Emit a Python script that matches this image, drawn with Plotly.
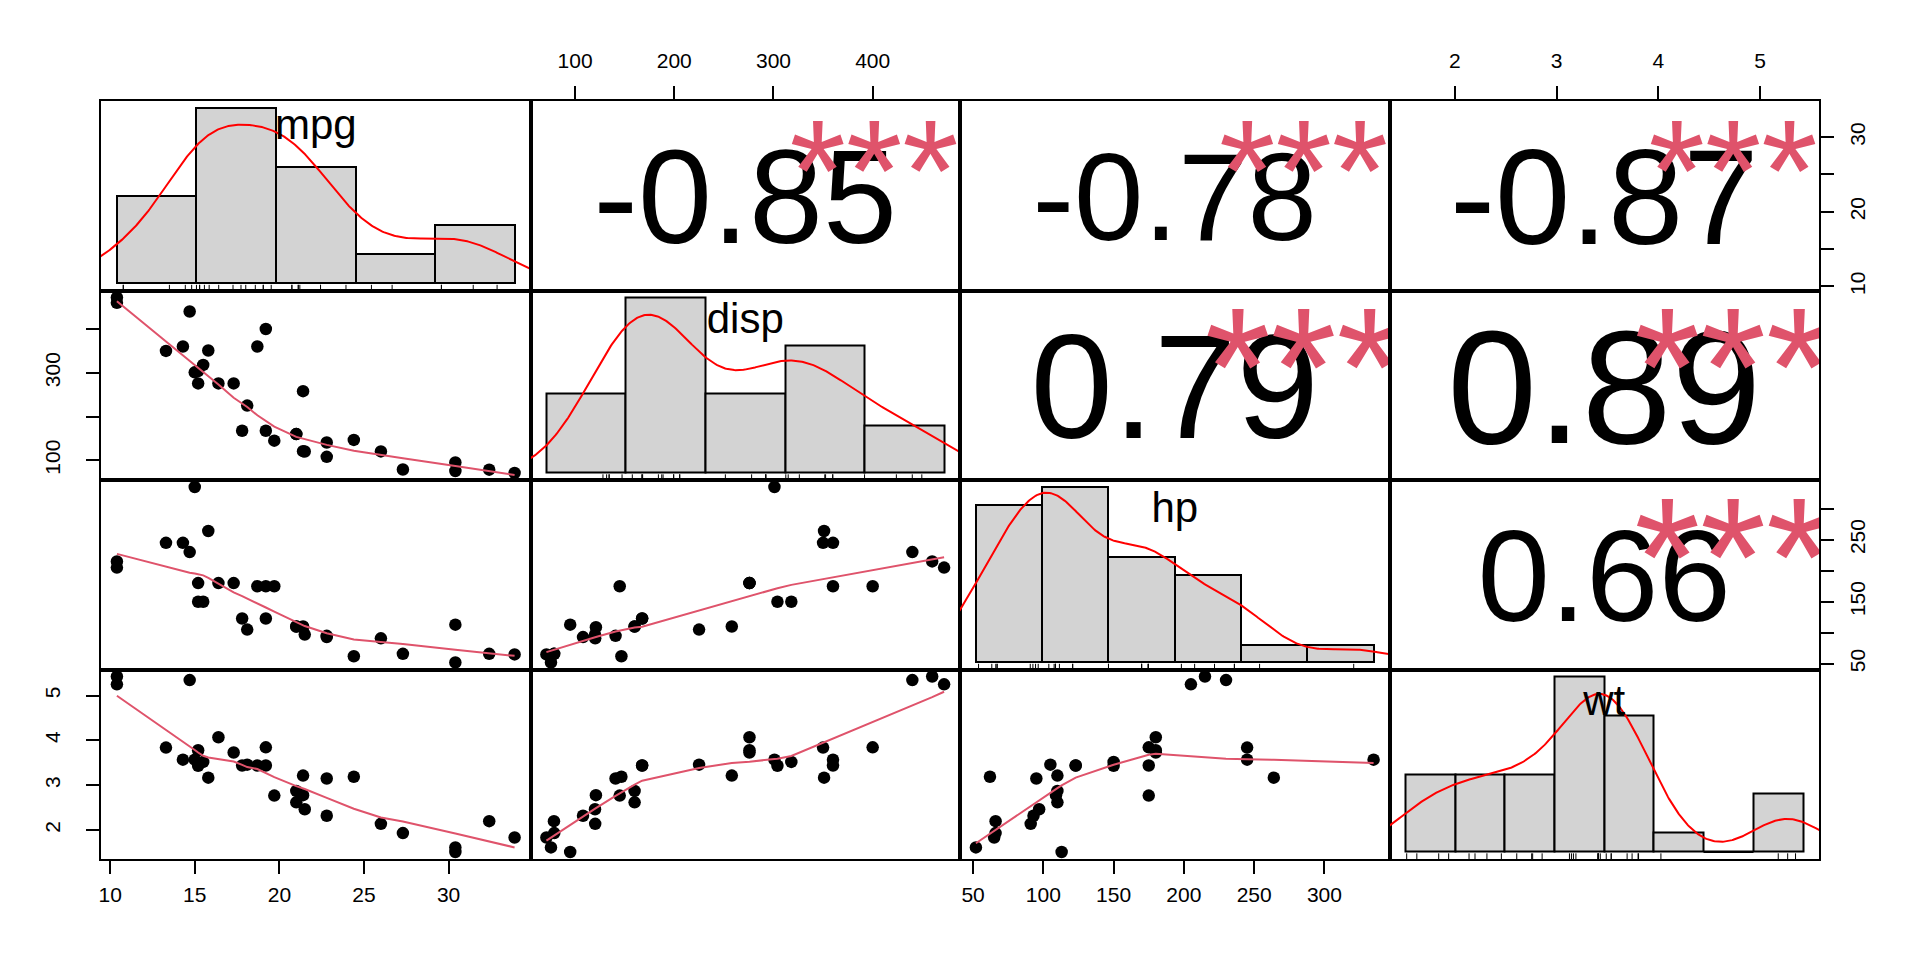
import numpy as np
import plotly.graph_objects as go

# mtcars columns
names = ["mpg", "disp", "hp", "wt"]
mpg = [21.0, 21.0, 22.8, 21.4, 18.7, 18.1, 14.3, 24.4, 22.8, 19.2, 17.8, 16.4, 17.3, 15.2, 10.4, 10.4,
       14.7, 32.4, 30.4, 33.9, 21.5, 15.5, 15.2, 13.3, 19.2, 27.3, 26.0, 30.4, 15.8, 19.7, 15.0, 21.4]
disp = [160, 160, 108, 258, 360, 225, 360, 146.7, 140.8, 167.6, 167.6, 275.8, 275.8, 275.8, 472, 460,
        440, 78.7, 75.7, 71.1, 120.1, 318, 304, 350, 400, 79, 120.3, 95.1, 351, 145, 301, 121]
hp = [110, 110, 93, 110, 175, 105, 245, 62, 95, 123, 123, 180, 180, 180, 205, 215,
      230, 66, 52, 65, 97, 150, 150, 245, 175, 66, 91, 113, 264, 175, 335, 109]
wt = [2.620, 2.875, 2.320, 3.215, 3.440, 3.460, 3.570, 3.190, 3.150, 3.440, 3.440, 4.070, 3.730, 3.780,
      5.250, 5.424, 5.345, 2.200, 1.615, 1.835, 2.465, 3.520, 3.435, 3.840, 3.845, 1.935, 2.140, 1.513,
      3.170, 2.770, 3.570, 2.780]
data = [mpg, disp, hp, wt]

# histogram breaks / counts on the diagonal
mpg_breaks = [10, 15, 20, 25, 30, 35]
mpg_counts = [6, 12, 8, 2, 4]
disp_breaks = [0, 100, 200, 300, 400, 500]
disp_counts = [5, 11, 5, 8, 3]
hp_breaks = [50, 100, 150, 200, 250, 300, 350]
hp_counts = [9, 10, 6, 5, 1, 1]
wt_breaks = [1.5, 2, 2.5, 3, 3.5, 4, 4.5, 5, 5.5]
wt_counts = [4, 4, 4, 9, 7, 1, 0, 3]
breaks = [mpg_breaks, disp_breaks, hp_breaks, wt_breaks]
counts = [mpg_counts, disp_counts, hp_counts, wt_counts]

# upper panels
cor_cells = [(0, 1), (0, 2), (0, 3), (1, 2), (1, 3), (2, 3)]
cor_r = [-0.8476, -0.7762, -0.8677, 0.7909, 0.8880, 0.6587]
cor_text = ["-0.85", "-0.78", "-0.87", "0.79", "0.89", "0.66"]
cor_stars = ["***", "***", "***", "***", "***", "***"]

# tick marks / labels for the outer axes
tick_vals = [[10, 15, 20, 25, 30], [100, 200, 300, 400], [50, 100, 150, 200, 250, 300], [2, 3, 4, 5]]
xtick_text = [["10", "15", "20", "25", "30"], ["100", "200", "300", "400"],
              ["50", "100", "150", "200", "250", "300"], ["2", "3", "4", "5"]]
ytick_text = [["10", "", "20", "", "30"], ["100", "", "300", ""],
              ["50", "", "150", "", "250", ""], ["2", "3", "4", "5"]]

FONT = "Liberation Sans, Arial, Helvetica, sans-serif"
RED2 = "#DF536B"
W, H = 1920, 960
M = 101
OFF = 8  # page body margin
PW = (W - 2 * M) / 4
PH = (H - 2 * M) / 4
LABEL_FS = 42


def ext(lo, hi):
    d = (hi - lo) * 0.04
    return [lo - d, hi + d]


def lowest(x, y, n, xs, nleft, nright, w, userw, rw):
    rng = x[n] - x[1]
    h = max(xs - x[nleft], x[nright] - xs)
    h9, h1 = 0.999 * h, 0.001 * h
    a = 0.0
    j = nleft
    while j <= n:
        w[j] = 0.0
        r = abs(x[j] - xs)
        if r <= h9:
            w[j] = 1.0 if r <= h1 else (1 - (r / h) ** 3) ** 3
            if userw:
                w[j] *= rw[j]
            a += w[j]
        elif x[j] > xs:
            break
        j += 1
    nrt = j - 1
    if a <= 0:
        return None
    for j in range(nleft, nrt + 1):
        w[j] /= a
    if h > 0:
        a = sum(w[j] * x[j] for j in range(nleft, nrt + 1))
        b = xs - a
        c = sum(w[j] * (x[j] - a) ** 2 for j in range(nleft, nrt + 1))
        if np.sqrt(c) > 0.001 * rng:
            b /= c
            for j in range(nleft, nrt + 1):
                w[j] *= b * (x[j] - a) + 1
    return sum(w[j] * y[j] for j in range(nleft, nrt + 1))


def lowess(xv, yv, f=2 / 3, nsteps=3):
    # port of R's clowess
    o = np.argsort(xv, kind="stable")
    xs_ = np.asarray(xv, float)[o]
    ys_ = np.asarray(yv, float)[o]
    n = len(xs_)
    delta = 0.01 * (xs_[-1] - xs_[0])
    x = np.concatenate([[0.0], xs_])
    y = np.concatenate([[0.0], ys_])
    fit = np.zeros(n + 1)
    w = np.zeros(n + 1)
    rw = np.ones(n + 1)
    ns = max(2, min(n, int(f * n + 1e-7)))
    it = 1
    while it <= nsteps + 1:
        nleft, nright, last, i = 1, ns, 0, 1
        while True:
            if nright < n:
                d1 = x[i] - x[nleft]
                d2 = x[nright + 1] - x[i]
                if d1 > d2:
                    nleft += 1
                    nright += 1
                    continue
            v = lowest(x, y, n, x[i], nleft, nright, w, it > 1, rw)
            fit[i] = y[i] if v is None else v
            if last < i - 1:
                denom = x[i] - x[last]
                for j in range(last + 1, i):
                    alpha = (x[j] - x[last]) / denom
                    fit[j] = alpha * fit[i] + (1 - alpha) * fit[last]
            last = i
            cut = x[last] + delta
            i = last + 1
            while i <= n:
                if x[i] > cut:
                    break
                if x[i] == x[last]:
                    fit[i] = fit[last]
                    last = i
                i += 1
            i = max(last + 1, i - 1)
            if last >= n:
                break
        res = y[1:] - fit[1:]
        sc = np.mean(np.abs(res))
        if it > nsteps:
            break
        srt = np.sort(np.abs(res))
        m1 = n // 2
        if n % 2 == 0:
            cmad = 3 * (srt[m1] + srt[n - m1 - 1])
        else:
            cmad = 6 * srt[m1]
        if cmad < 1e-7 * sc:
            break
        for k in range(n):
            r = abs(res[k])
            if r <= 0.001 * cmad:
                rw[k + 1] = 1.0
            elif r <= 0.999 * cmad:
                rw[k + 1] = (1 - (r / cmad) ** 2) ** 2
            else:
                rw[k + 1] = 0.0
        it += 1
    return xs_, fit[1:]


def kde(v):
    v = np.asarray(v, float)
    n = len(v)
    q1, q3 = np.percentile(v, [25, 75])
    bw = 0.9 * min(v.std(ddof=1), (q3 - q1) / 1.34) * n ** -0.2
    gx = np.linspace(v.min() - 3 * bw, v.max() + 3 * bw, 512)
    gy = np.exp(-0.5 * ((gx[:, None] - v[None, :]) / bw) ** 2).sum(axis=1) / (n * bw * np.sqrt(2 * np.pi))
    return gx, gy


def adv(s):
    widths = {"-": 0.333, ".": 0.278}
    return sum(widths.get(ch, 0.556) for ch in s)


def ink_mid(s):
    # distance (em) of the glyph box centre above the baseline, as R centres text
    asc = max(0.729 if ch in "bdfhkl" else 0.66 if ch == "t" else 0.519 for ch in s)
    desc = max(0.21 if ch in "gjpqy" else 0.0 for ch in s)
    return (asc - desc) / 2


fig = go.Figure()
layout = {}
ranges = [ext(min(v), max(v)) for v in data]

for i in range(4):
    for j in range(4):
        k = i * 4 + j + 1
        sx = "" if k == 1 else str(k)
        if i == j:
            b = breaks[i]
            xr = ext(b[0], b[-1])
            dens = [c / (len(data[i]) * (b[q + 1] - b[q])) for q, c in enumerate(counts[i])]
            yr = ext(0, max(dens))
        else:
            xr, yr = ranges[j], ranges[i]
        xa = dict(domain=[j / 4, (j + 1) / 4], anchor="y" + sx, range=xr, showline=True, mirror=True,
                  linecolor="black", linewidth=2, showgrid=False, zeroline=False, ticks="",
                  showticklabels=False, fixedrange=True)
        ya = dict(domain=[1 - (i + 1) / 4, 1 - i / 4], anchor="x" + sx, range=yr, showline=True,
                  mirror=True, linecolor="black", linewidth=2, showgrid=False, zeroline=False,
                  ticks="", showticklabels=False, fixedrange=True)
        tick_style = dict(ticks="outside", ticklen=13, tickwidth=2, tickcolor="black",
                          showticklabels=True, tickfont=dict(family=FONT, size=21, color="black"))
        if i == 0 and j % 2 == 1:
            xa.update(tick_style, tickvals=tick_vals[j], ticktext=xtick_text[j], side="top",
                      ticklabelstandoff=10)
        if i == 3 and j % 2 == 0:
            xa.update(tick_style, tickvals=tick_vals[j], ticktext=xtick_text[j], side="bottom",
                      ticklabelstandoff=3)
        if j == 0 and i % 2 == 1:
            ya.update(tick_style, tickvals=tick_vals[i], ticktext=ytick_text[i], side="left",
                      tickangle=-90, ticklabelstandoff=18)
        if j == 3 and i % 2 == 0:
            ya.update(tick_style, tickvals=tick_vals[i], ticktext=ytick_text[i], side="right",
                      tickangle=-90, ticklabelstandoff=6)
        layout["xaxis" + sx] = xa
        layout["yaxis" + sx] = ya
        axes = dict(xaxis="x" + sx, yaxis="y" + sx)
        ypx = (yr[1] - yr[0]) / PH  # data units per pixel

        if i == j:
            # histogram (density scale), kde, rug, variable name
            b = breaks[i]
            lefts = b[:-1]
            widths = [b[q + 1] - b[q] for q in range(len(lefts))]
            fig.add_trace(go.Bar(x=[l + w / 2 for l, w in zip(lefts, widths)], y=dens, width=widths,
                                 marker=dict(color="#D3D3D3", line=dict(color="black", width=2)),
                                 hoverinfo="skip", **axes))
            for q, c in enumerate(counts[i]):
                if c == 0:
                    fig.add_trace(go.Scatter(x=[b[q], b[q + 1]], y=[0, 0], mode="lines",
                                             line=dict(color="black", width=2), **axes))
            gx, gy = kde(data[i])
            fig.add_trace(go.Scatter(x=gx, y=gy, mode="lines", line=dict(color="red", width=2), **axes))
            rx, ry = [], []
            tick_h = 0.03 * (yr[1] - yr[0])
            for v in data[i]:
                rx += [v, v, None]
                ry += [yr[0], yr[0] + tick_h, None]
            fig.add_trace(go.Scatter(x=rx, y=ry, mode="lines", line=dict(color="black", width=1), **axes))
            ly = yr[0] + (5 / 6) * (yr[1] - yr[0]) - (ink_mid(names[i]) - 0.25) * LABEL_FS * ypx
            fig.add_trace(go.Scatter(x=[(xr[0] + xr[1]) / 2], y=[ly],
                                     mode="text", text=[names[i]], textposition="middle center",
                                     textfont=dict(family=FONT, size=LABEL_FS, color="black"), **axes))
        elif i > j:
            fig.add_trace(go.Scatter(x=data[j], y=data[i], mode="markers",
                                     marker=dict(color="black", size=12.5, line=dict(width=0)), **axes))
            lx, lyv = lowess(data[j], data[i])
            fig.add_trace(go.Scatter(x=lx, y=lyv, mode="lines", line=dict(color=RED2, width=2), **axes))
        else:
            q = cor_cells.index((i, j))
            txt = cor_text[q]
            star_fs = 0.8 * PW / adv(txt)
            num_fs = star_fs * (abs(cor_r[q]) + 0.3) / 1.3
            fig.add_trace(go.Scatter(x=[xr[0] + 0.5 * (xr[1] - xr[0])],
                                     y=[yr[0] + 0.5 * (yr[1] - yr[0]) - 0.108 * num_fs * ypx],
                                     mode="text", text=[txt], textposition="middle center",
                                     textfont=dict(family=FONT, size=num_fs, color="black"), **axes))
            sfs = star_fs * 0.96
            fig.add_trace(go.Scatter(x=[xr[0] + 0.8 * (xr[1] - xr[0])],
                                     y=[yr[0] + 0.8 * (yr[1] - yr[0]) - 0.32 * sfs * ypx],
                                     mode="text", text=[cor_stars[q]], textposition="middle center",
                                     textfont=dict(family=FONT, size=sfs, color=RED2), **axes))

fig.update_layout(
    width=W, height=H, showlegend=False,
    margin=dict(l=M - OFF, r=M + OFF, t=M - OFF, b=M + OFF),
    paper_bgcolor="white", plot_bgcolor="white",
    font=dict(family=FONT, color="black"),
    bargap=0,
    **layout,
)

fig.write_html("out.html")
